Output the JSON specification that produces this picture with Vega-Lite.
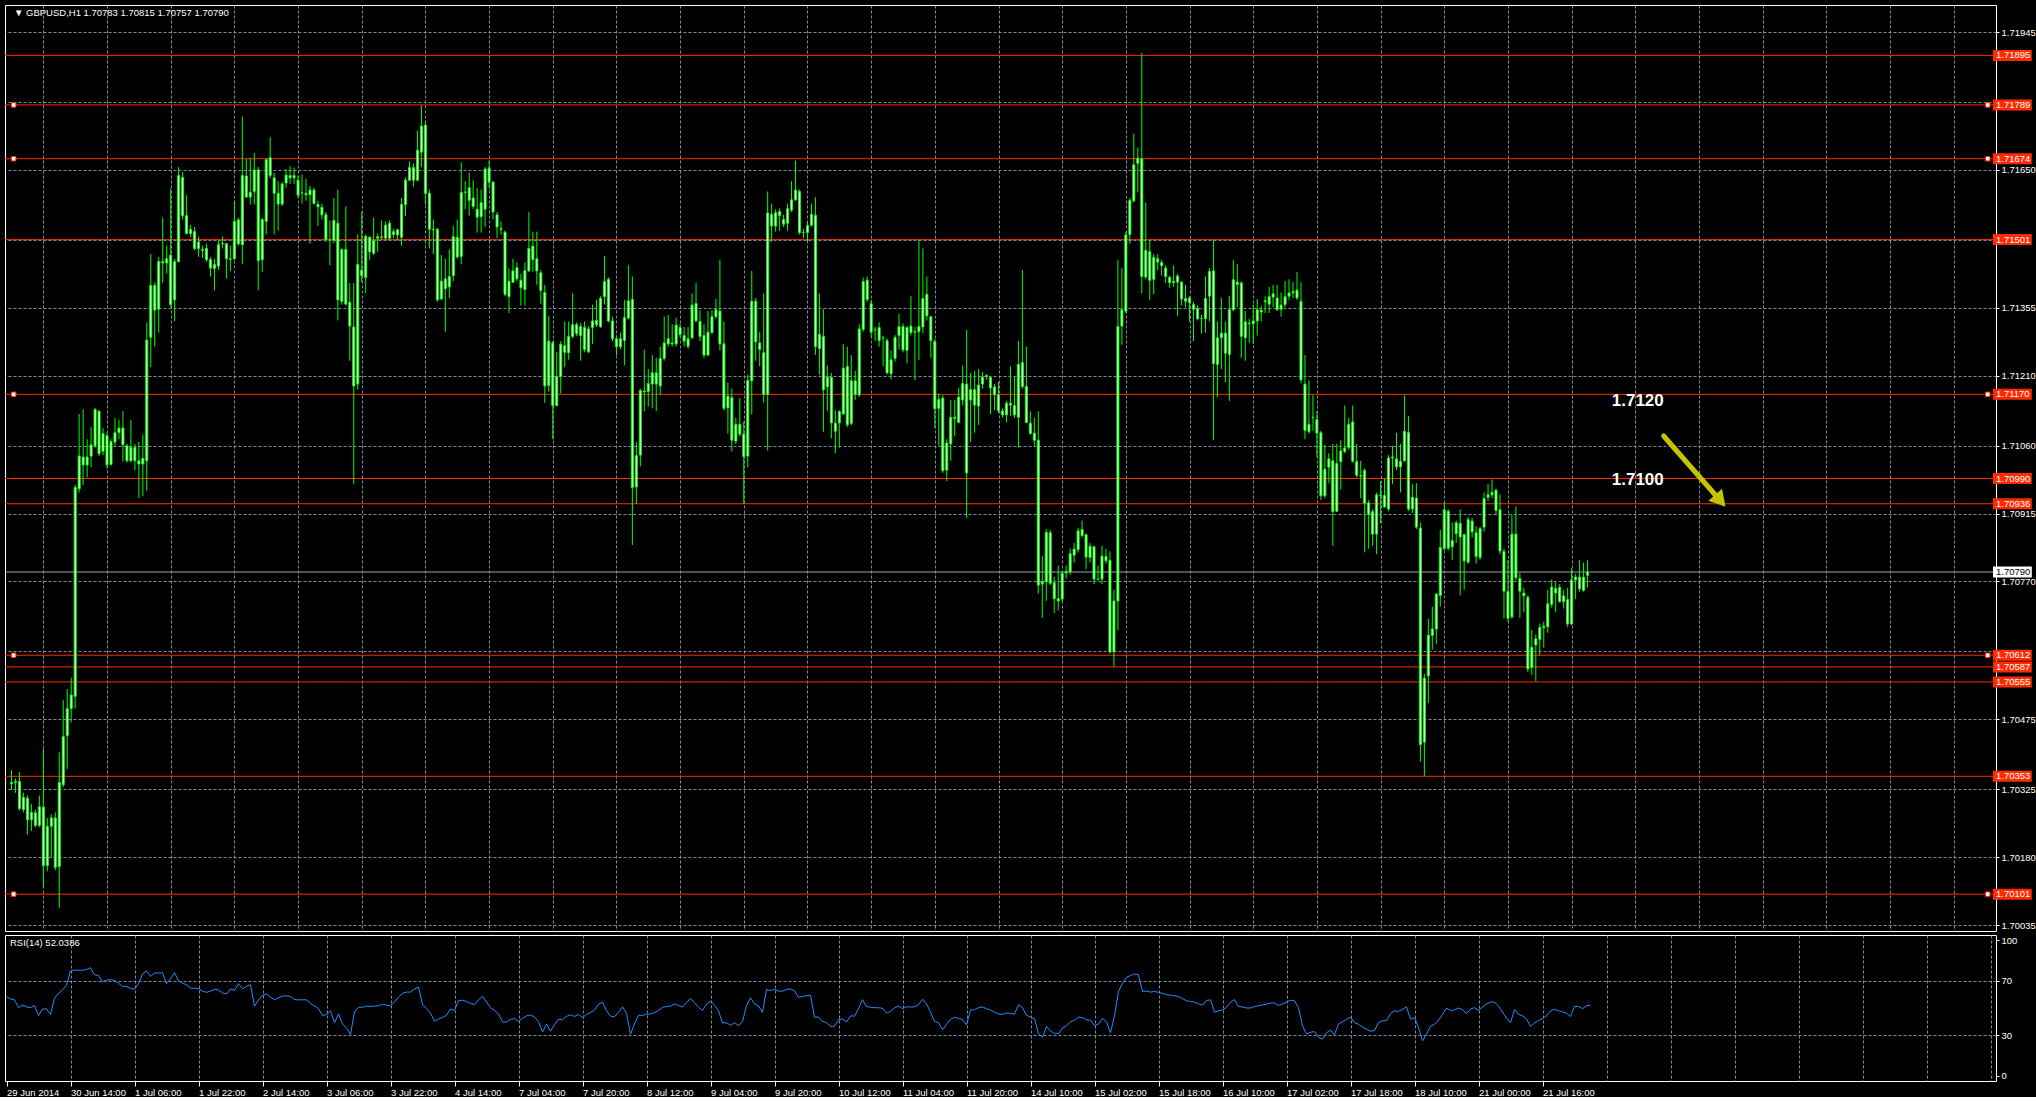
{
"$schema": "https://vega.github.io/schema/vega-lite/v6.json",
"background": "#000000",
"padding": {"left": 4, "top": 4, "right": 0, "bottom": 0},
"spacing": 2,
"config": {
  "view": {"stroke": "#ffffff", "strokeWidth": 1},
  "axis": {"labelColor": "#ffffff", "labelFont": "Liberation Sans", "labelFontSize": 9.5, "tickColor": "#ffffff", "domain": false, "gridColor": "#7f8c9c", "gridDash": [3, 2], "gridWidth": 1, "title": null},
  "text": {"font": "Liberation Sans"}
},
"resolve": {"scale": {"x": "independent", "y": "independent"}},
"datasets": {
"levels": [
{"p":1.71895,"s":0},{"p":1.71789,"s":1},{"p":1.71674,"s":1},{"p":1.71501,"s":0},{"p":1.7117,"s":1},{"p":1.7099,"s":0},{"p":1.70936,"s":0},{"p":1.70612,"s":1},{"p":1.70587,"s":0},{"p":1.70555,"s":0},{"p":1.70353,"s":0},{"p":1.70101,"s":1}
],
"bars": [
{"i":0,"o":1.7034,"h":1.70366,"l":1.70324,"c":1.70337,"r":58.3},
{"i":1,"o":1.7034,"h":1.70348,"l":1.70318,"c":1.70342,"r":56.7},
{"i":2,"o":1.70342,"h":1.70362,"l":1.7028,"c":1.70284,"r":56.0},
{"i":3,"o":1.70282,"h":1.70318,"l":1.70276,"c":1.70308,"r":50.2},
{"i":4,"o":1.70306,"h":1.70312,"l":1.70228,"c":1.7026,"r":52.1},
{"i":5,"o":1.7026,"h":1.70294,"l":1.70236,"c":1.70276,"r":50.9},
{"i":6,"o":1.70275,"h":1.70282,"l":1.70244,"c":1.70248,"r":50.2},
{"i":7,"o":1.70248,"h":1.70312,"l":1.70244,"c":1.70288,"r":51.8},
{"i":8,"o":1.70287,"h":1.70412,"l":1.70116,"c":1.70162,"r":44.5},
{"i":9,"o":1.70162,"h":1.70264,"l":1.7015,"c":1.70246,"r":49.3},
{"i":10,"o":1.70246,"h":1.70272,"l":1.7018,"c":1.70264,"r":49.3},
{"i":11,"o":1.70264,"h":1.70276,"l":1.70152,"c":1.70158,"r":45.2},
{"i":12,"o":1.7016,"h":1.70404,"l":1.70072,"c":1.7034,"r":57.1},
{"i":13,"o":1.70335,"h":1.70516,"l":1.7033,"c":1.70438,"r":60.8},
{"i":14,"o":1.7044,"h":1.7054,"l":1.70368,"c":1.70498,"r":63.3},
{"i":15,"o":1.70498,"h":1.70564,"l":1.70468,"c":1.70527,"r":66.8},
{"i":16,"o":1.70524,"h":1.70976,"l":1.70498,"c":1.70971,"r":77.3},
{"i":17,"o":1.70968,"h":1.71128,"l":1.7096,"c":1.71038,"r":77.8},
{"i":18,"o":1.71036,"h":1.71138,"l":1.70976,"c":1.71019,"r":77.8},
{"i":19,"o":1.71019,"h":1.71074,"l":1.70992,"c":1.71036,"r":77.8},
{"i":20,"o":1.71038,"h":1.711,"l":1.71014,"c":1.71062,"r":78.3},
{"i":21,"o":1.7106,"h":1.7114,"l":1.71056,"c":1.71138,"r":79.6},
{"i":22,"o":1.71134,"h":1.71136,"l":1.71038,"c":1.71043,"r":74.4},
{"i":23,"o":1.71048,"h":1.71098,"l":1.7104,"c":1.71086,"r":73.9},
{"i":24,"o":1.71082,"h":1.71088,"l":1.71012,"c":1.71019,"r":69.3},
{"i":25,"o":1.7102,"h":1.71074,"l":1.71018,"c":1.71069,"r":70.5},
{"i":26,"o":1.71068,"h":1.7112,"l":1.7106,"c":1.71088,"r":70.9},
{"i":27,"o":1.71088,"h":1.71116,"l":1.71074,"c":1.71098,"r":70.2},
{"i":28,"o":1.71098,"h":1.71134,"l":1.71026,"c":1.71062,"r":68.2},
{"i":29,"o":1.7106,"h":1.71064,"l":1.71024,"c":1.71028,"r":65.9},
{"i":30,"o":1.71028,"h":1.71115,"l":1.71024,"c":1.71057,"r":65.9},
{"i":31,"o":1.71056,"h":1.71064,"l":1.71008,"c":1.71028,"r":64.5},
{"i":32,"o":1.71028,"h":1.71068,"l":1.70948,"c":1.71021,"r":63.8},
{"i":33,"o":1.71021,"h":1.71084,"l":1.70952,"c":1.71033,"r":67.9},
{"i":34,"o":1.71028,"h":1.71324,"l":1.70964,"c":1.71286,"r":75.0},
{"i":35,"o":1.71292,"h":1.7147,"l":1.71228,"c":1.71403,"r":77.3},
{"i":36,"o":1.71403,"h":1.7141,"l":1.71272,"c":1.7135,"r":73.2},
{"i":37,"o":1.71352,"h":1.71464,"l":1.71302,"c":1.71454,"r":75.7},
{"i":38,"o":1.71454,"h":1.71548,"l":1.71408,"c":1.71451,"r":75.7},
{"i":39,"o":1.71451,"h":1.71488,"l":1.71428,"c":1.7146,"r":76.0},
{"i":40,"o":1.71468,"h":1.7161,"l":1.71356,"c":1.71362,"r":67.9},
{"i":41,"o":1.71372,"h":1.7146,"l":1.71326,"c":1.71454,"r":71.4},
{"i":42,"o":1.71454,"h":1.71656,"l":1.71452,"c":1.71638,"r":76.0},
{"i":43,"o":1.71634,"h":1.71646,"l":1.71544,"c":1.71552,"r":70.0},
{"i":44,"o":1.71552,"h":1.71596,"l":1.71512,"c":1.71514,"r":68.2},
{"i":45,"o":1.71514,"h":1.71532,"l":1.71506,"c":1.71523,"r":67.2},
{"i":46,"o":1.71518,"h":1.71528,"l":1.71478,"c":1.71482,"r":64.7},
{"i":47,"o":1.71496,"h":1.71508,"l":1.71464,"c":1.71482,"r":64.5},
{"i":48,"o":1.7148,"h":1.71488,"l":1.71462,"c":1.71478,"r":64.2},
{"i":49,"o":1.71482,"h":1.71492,"l":1.71454,"c":1.71458,"r":62.4},
{"i":50,"o":1.71458,"h":1.71464,"l":1.71422,"c":1.7144,"r":61.5},
{"i":51,"o":1.71439,"h":1.7146,"l":1.71392,"c":1.71448,"r":62.4},
{"i":52,"o":1.71444,"h":1.715,"l":1.71436,"c":1.7149,"r":63.6},
{"i":53,"o":1.71492,"h":1.71508,"l":1.71482,"c":1.71493,"r":63.3},
{"i":54,"o":1.71492,"h":1.71494,"l":1.71418,"c":1.7146,"r":61.0},
{"i":55,"o":1.7146,"h":1.71488,"l":1.71434,"c":1.71459,"r":60.3},
{"i":56,"o":1.7146,"h":1.71583,"l":1.71458,"c":1.7154,"r":64.0},
{"i":57,"o":1.71543,"h":1.71548,"l":1.71488,"c":1.71492,"r":62.9},
{"i":58,"o":1.7149,"h":1.71764,"l":1.71448,"c":1.71638,"r":67.9},
{"i":59,"o":1.71637,"h":1.71674,"l":1.7159,"c":1.71592,"r":64.2},
{"i":60,"o":1.71592,"h":1.71676,"l":1.71576,"c":1.71602,"r":65.9},
{"i":61,"o":1.71604,"h":1.71686,"l":1.71576,"c":1.7165,"r":67.2},
{"i":62,"o":1.7165,"h":1.71656,"l":1.71392,"c":1.71456,"r":51.4},
{"i":63,"o":1.71458,"h":1.71547,"l":1.71432,"c":1.71544,"r":55.7},
{"i":64,"o":1.7154,"h":1.71674,"l":1.71512,"c":1.71672,"r":59.4},
{"i":65,"o":1.71676,"h":1.7172,"l":1.71632,"c":1.71638,"r":60.3},
{"i":66,"o":1.71633,"h":1.71644,"l":1.71512,"c":1.716,"r":58.0},
{"i":67,"o":1.716,"h":1.71626,"l":1.7152,"c":1.71577,"r":56.0},
{"i":68,"o":1.71577,"h":1.71624,"l":1.71573,"c":1.7162,"r":57.6},
{"i":69,"o":1.71622,"h":1.71652,"l":1.71612,"c":1.71639,"r":58.7},
{"i":70,"o":1.71638,"h":1.71658,"l":1.7162,"c":1.71633,"r":59.0},
{"i":71,"o":1.71633,"h":1.71655,"l":1.7162,"c":1.71638,"r":58.5},
{"i":72,"o":1.71628,"h":1.71638,"l":1.7159,"c":1.71596,"r":56.2},
{"i":73,"o":1.71601,"h":1.7164,"l":1.71578,"c":1.71601,"r":56.0},
{"i":74,"o":1.716,"h":1.71631,"l":1.71584,"c":1.71597,"r":56.0},
{"i":75,"o":1.71597,"h":1.71616,"l":1.71492,"c":1.71607,"r":56.0},
{"i":76,"o":1.71607,"h":1.71612,"l":1.71576,"c":1.71578,"r":53.2},
{"i":77,"o":1.71576,"h":1.71584,"l":1.7153,"c":1.71571,"r":51.6},
{"i":78,"o":1.7157,"h":1.71578,"l":1.71544,"c":1.71554,"r":49.5},
{"i":79,"o":1.71554,"h":1.7156,"l":1.71496,"c":1.71501,"r":44.5},
{"i":80,"o":1.715,"h":1.71542,"l":1.71446,"c":1.715,"r":45.2},
{"i":81,"o":1.71499,"h":1.7159,"l":1.71494,"c":1.71542,"r":47.9},
{"i":82,"o":1.71536,"h":1.71608,"l":1.71328,"c":1.71372,"r":39.2},
{"i":83,"o":1.71369,"h":1.71482,"l":1.71362,"c":1.7148,"r":45.6},
{"i":84,"o":1.7148,"h":1.71572,"l":1.7136,"c":1.71363,"r":38.3},
{"i":85,"o":1.71367,"h":1.71408,"l":1.71242,"c":1.71316,"r":35.3},
{"i":86,"o":1.71314,"h":1.71408,"l":1.70978,"c":1.71188,"r":30.5},
{"i":87,"o":1.71192,"h":1.71512,"l":1.7118,"c":1.71448,"r":47.2},
{"i":88,"o":1.71436,"h":1.7156,"l":1.7141,"c":1.71424,"r":50.5},
{"i":89,"o":1.7142,"h":1.71512,"l":1.71386,"c":1.71508,"r":50.5},
{"i":90,"o":1.71506,"h":1.71508,"l":1.71458,"c":1.71475,"r":51.4},
{"i":91,"o":1.71472,"h":1.71548,"l":1.71468,"c":1.71499,"r":51.1},
{"i":92,"o":1.71504,"h":1.71514,"l":1.71475,"c":1.71507,"r":51.4},
{"i":93,"o":1.71506,"h":1.71542,"l":1.715,"c":1.71507,"r":51.6},
{"i":94,"o":1.71504,"h":1.7154,"l":1.715,"c":1.71532,"r":52.8},
{"i":95,"o":1.71536,"h":1.71542,"l":1.715,"c":1.71504,"r":52.1},
{"i":96,"o":1.71512,"h":1.71524,"l":1.71504,"c":1.71518,"r":51.6},
{"i":97,"o":1.71511,"h":1.71524,"l":1.71499,"c":1.71522,"r":54.4},
{"i":98,"o":1.71506,"h":1.7159,"l":1.71488,"c":1.71576,"r":58.0},
{"i":99,"o":1.71576,"h":1.71634,"l":1.71552,"c":1.71628,"r":60.8},
{"i":100,"o":1.71628,"h":1.71668,"l":1.71626,"c":1.71655,"r":61.7},
{"i":101,"o":1.71655,"h":1.71664,"l":1.71614,"c":1.71628,"r":61.7},
{"i":102,"o":1.71628,"h":1.71734,"l":1.71626,"c":1.71692,"r":64.0},
{"i":103,"o":1.71688,"h":1.71788,"l":1.71656,"c":1.71744,"r":65.4},
{"i":104,"o":1.71746,"h":1.71752,"l":1.71576,"c":1.716,"r":52.5},
{"i":105,"o":1.716,"h":1.71608,"l":1.71482,"c":1.71523,"r":49.5},
{"i":106,"o":1.71523,"h":1.71544,"l":1.7147,"c":1.71522,"r":46.3},
{"i":107,"o":1.71523,"h":1.71526,"l":1.71368,"c":1.71372,"r":40.3},
{"i":108,"o":1.71374,"h":1.71468,"l":1.71372,"c":1.71412,"r":41.9},
{"i":109,"o":1.71396,"h":1.7146,"l":1.71304,"c":1.71417,"r":43.1},
{"i":110,"o":1.714,"h":1.7148,"l":1.71376,"c":1.71422,"r":44.7},
{"i":111,"o":1.71424,"h":1.7153,"l":1.71412,"c":1.71507,"r":49.3},
{"i":112,"o":1.71506,"h":1.71544,"l":1.7146,"c":1.71464,"r":48.2},
{"i":113,"o":1.71465,"h":1.71666,"l":1.71448,"c":1.71602,"r":55.5},
{"i":114,"o":1.71602,"h":1.71626,"l":1.71566,"c":1.71603,"r":55.7},
{"i":115,"o":1.71612,"h":1.71644,"l":1.71552,"c":1.71585,"r":54.8},
{"i":116,"o":1.7159,"h":1.71628,"l":1.71566,"c":1.71572,"r":53.4},
{"i":117,"o":1.71566,"h":1.71612,"l":1.71516,"c":1.71549,"r":52.5},
{"i":118,"o":1.7155,"h":1.71608,"l":1.71516,"c":1.7158,"r":56.0},
{"i":119,"o":1.71566,"h":1.71656,"l":1.71528,"c":1.71652,"r":58.7},
{"i":120,"o":1.71654,"h":1.7167,"l":1.71612,"c":1.71624,"r":54.4},
{"i":121,"o":1.71624,"h":1.71626,"l":1.71544,"c":1.7156,"r":50.2},
{"i":122,"o":1.71554,"h":1.7156,"l":1.71504,"c":1.71528,"r":48.2},
{"i":123,"o":1.71525,"h":1.7154,"l":1.71512,"c":1.71523,"r":45.6},
{"i":124,"o":1.71517,"h":1.7152,"l":1.7138,"c":1.71384,"r":39.7},
{"i":125,"o":1.71379,"h":1.7144,"l":1.71344,"c":1.71412,"r":39.7},
{"i":126,"o":1.7141,"h":1.7146,"l":1.71408,"c":1.71434,"r":41.7},
{"i":127,"o":1.71417,"h":1.71452,"l":1.71412,"c":1.71441,"r":42.2},
{"i":128,"o":1.71414,"h":1.71428,"l":1.7136,"c":1.71398,"r":40.1},
{"i":129,"o":1.71394,"h":1.71452,"l":1.7136,"c":1.71435,"r":42.4},
{"i":130,"o":1.71434,"h":1.7156,"l":1.71432,"c":1.71482,"r":44.2},
{"i":131,"o":1.71458,"h":1.71518,"l":1.71432,"c":1.71487,"r":44.9},
{"i":132,"o":1.7146,"h":1.71518,"l":1.71404,"c":1.71434,"r":43.3},
{"i":133,"o":1.7143,"h":1.71436,"l":1.71364,"c":1.71392,"r":40.1},
{"i":134,"o":1.71388,"h":1.71404,"l":1.71152,"c":1.71188,"r":32.3},
{"i":135,"o":1.71189,"h":1.71338,"l":1.71176,"c":1.71284,"r":38.3},
{"i":136,"o":1.7128,"h":1.71284,"l":1.71074,"c":1.71146,"r":33.0},
{"i":137,"o":1.71146,"h":1.7126,"l":1.71144,"c":1.71208,"r":37.6},
{"i":138,"o":1.71208,"h":1.71284,"l":1.71172,"c":1.71277,"r":41.7},
{"i":139,"o":1.71274,"h":1.71326,"l":1.71228,"c":1.7126,"r":41.3},
{"i":140,"o":1.71259,"h":1.71326,"l":1.71244,"c":1.71294,"r":43.8},
{"i":141,"o":1.71294,"h":1.71386,"l":1.7129,"c":1.71319,"r":44.9},
{"i":142,"o":1.71319,"h":1.71324,"l":1.71294,"c":1.713,"r":43.8},
{"i":143,"o":1.71296,"h":1.71322,"l":1.71242,"c":1.71315,"r":45.2},
{"i":144,"o":1.71313,"h":1.71326,"l":1.7126,"c":1.71266,"r":42.9},
{"i":145,"o":1.71261,"h":1.71316,"l":1.71258,"c":1.7131,"r":45.2},
{"i":146,"o":1.71313,"h":1.71362,"l":1.71278,"c":1.71327,"r":46.8},
{"i":147,"o":1.71319,"h":1.71372,"l":1.71314,"c":1.71328,"r":48.6},
{"i":148,"o":1.71315,"h":1.7138,"l":1.71312,"c":1.71375,"r":52.8},
{"i":149,"o":1.71379,"h":1.71466,"l":1.71362,"c":1.71411,"r":54.4},
{"i":150,"o":1.71416,"h":1.7142,"l":1.71324,"c":1.71327,"r":47.9},
{"i":151,"o":1.71327,"h":1.71336,"l":1.71284,"c":1.71289,"r":44.0},
{"i":152,"o":1.71289,"h":1.71296,"l":1.71254,"c":1.71272,"r":43.6},
{"i":153,"o":1.71272,"h":1.71302,"l":1.71266,"c":1.71289,"r":46.8},
{"i":154,"o":1.71285,"h":1.71372,"l":1.71232,"c":1.71334,"r":50.9},
{"i":155,"o":1.71333,"h":1.71446,"l":1.7133,"c":1.7137,"r":46.1},
{"i":156,"o":1.71373,"h":1.71422,"l":1.70848,"c":1.70971,"r":30.7},
{"i":157,"o":1.70972,"h":1.71068,"l":1.70936,"c":1.71039,"r":38.3},
{"i":158,"o":1.7104,"h":1.71182,"l":1.71016,"c":1.71178,"r":44.7},
{"i":159,"o":1.71177,"h":1.71266,"l":1.71134,"c":1.71175,"r":44.5},
{"i":160,"o":1.71176,"h":1.71224,"l":1.71144,"c":1.71193,"r":45.4},
{"i":161,"o":1.71192,"h":1.71254,"l":1.7114,"c":1.71216,"r":45.6},
{"i":162,"o":1.71216,"h":1.71248,"l":1.71134,"c":1.71192,"r":46.5},
{"i":163,"o":1.71188,"h":1.71272,"l":1.71168,"c":1.71247,"r":48.2},
{"i":164,"o":1.71247,"h":1.71336,"l":1.71242,"c":1.7128,"r":50.5},
{"i":165,"o":1.71278,"h":1.7134,"l":1.71272,"c":1.71289,"r":51.1},
{"i":166,"o":1.7128,"h":1.7132,"l":1.71272,"c":1.71278,"r":51.4},
{"i":167,"o":1.71278,"h":1.71334,"l":1.71272,"c":1.71318,"r":53.0},
{"i":168,"o":1.71313,"h":1.7132,"l":1.71292,"c":1.71298,"r":51.8},
{"i":169,"o":1.71296,"h":1.71314,"l":1.71272,"c":1.71284,"r":50.7},
{"i":170,"o":1.71289,"h":1.71314,"l":1.71268,"c":1.71273,"r":53.9},
{"i":171,"o":1.71291,"h":1.71386,"l":1.71288,"c":1.71361,"r":57.1},
{"i":172,"o":1.71364,"h":1.71408,"l":1.71324,"c":1.71327,"r":53.9},
{"i":173,"o":1.71326,"h":1.7135,"l":1.71284,"c":1.71294,"r":50.5},
{"i":174,"o":1.71296,"h":1.7132,"l":1.71248,"c":1.71254,"r":48.2},
{"i":175,"o":1.71254,"h":1.71348,"l":1.71252,"c":1.71303,"r":52.8},
{"i":176,"o":1.71302,"h":1.7135,"l":1.713,"c":1.71336,"r":55.1},
{"i":177,"o":1.71336,"h":1.71374,"l":1.71332,"c":1.71351,"r":52.1},
{"i":178,"o":1.71348,"h":1.71458,"l":1.71264,"c":1.71278,"r":47.9},
{"i":179,"o":1.71278,"h":1.71326,"l":1.71136,"c":1.7114,"r":39.0},
{"i":180,"o":1.71141,"h":1.71196,"l":1.71086,"c":1.71166,"r":39.2},
{"i":181,"o":1.71163,"h":1.71182,"l":1.71048,"c":1.71072,"r":37.3},
{"i":182,"o":1.7107,"h":1.7112,"l":1.71064,"c":1.71106,"r":39.2},
{"i":183,"o":1.71106,"h":1.71162,"l":1.7108,"c":1.71085,"r":37.1},
{"i":184,"o":1.71085,"h":1.71112,"l":1.70936,"c":1.71037,"r":39.9},
{"i":185,"o":1.71038,"h":1.71212,"l":1.71014,"c":1.712,"r":51.8},
{"i":186,"o":1.71199,"h":1.71434,"l":1.71128,"c":1.71369,"r":57.6},
{"i":187,"o":1.71369,"h":1.71376,"l":1.71242,"c":1.71282,"r":53.0},
{"i":188,"o":1.7128,"h":1.71304,"l":1.7123,"c":1.71266,"r":51.6},
{"i":189,"o":1.71259,"h":1.71386,"l":1.71152,"c":1.7117,"r":46.8},
{"i":190,"o":1.7117,"h":1.71604,"l":1.7105,"c":1.71558,"r":63.6},
{"i":191,"o":1.7153,"h":1.71578,"l":1.71496,"c":1.71555,"r":62.9},
{"i":192,"o":1.71559,"h":1.71566,"l":1.71518,"c":1.7153,"r":63.6},
{"i":193,"o":1.71552,"h":1.71568,"l":1.7152,"c":1.71561,"r":62.4},
{"i":194,"o":1.71544,"h":1.71554,"l":1.71528,"c":1.71534,"r":62.4},
{"i":195,"o":1.71536,"h":1.71578,"l":1.7152,"c":1.71567,"r":63.6},
{"i":196,"o":1.71564,"h":1.71626,"l":1.7156,"c":1.71586,"r":64.0},
{"i":197,"o":1.71586,"h":1.7167,"l":1.71584,"c":1.71607,"r":62.6},
{"i":198,"o":1.71604,"h":1.71608,"l":1.71512,"c":1.71516,"r":57.8},
{"i":199,"o":1.71516,"h":1.71524,"l":1.71504,"c":1.71516,"r":58.5},
{"i":200,"o":1.71516,"h":1.7154,"l":1.71496,"c":1.71531,"r":59.0},
{"i":201,"o":1.71532,"h":1.71578,"l":1.71528,"c":1.71555,"r":59.4},
{"i":202,"o":1.71553,"h":1.71592,"l":1.71254,"c":1.71272,"r":43.3},
{"i":203,"o":1.71268,"h":1.71386,"l":1.71212,"c":1.71298,"r":43.3},
{"i":204,"o":1.71294,"h":1.71352,"l":1.7109,"c":1.7118,"r":40.1},
{"i":205,"o":1.71186,"h":1.71232,"l":1.71134,"c":1.71207,"r":39.4},
{"i":206,"o":1.71206,"h":1.71216,"l":1.71076,"c":1.71109,"r":36.4},
{"i":207,"o":1.71108,"h":1.71136,"l":1.71044,"c":1.71091,"r":36.7},
{"i":208,"o":1.71109,"h":1.71136,"l":1.71056,"c":1.71133,"r":41.5},
{"i":209,"o":1.71128,"h":1.71278,"l":1.71126,"c":1.71226,"r":41.9},
{"i":210,"o":1.7123,"h":1.71272,"l":1.711,"c":1.71105,"r":39.7},
{"i":211,"o":1.71108,"h":1.71254,"l":1.71104,"c":1.71199,"r":44.2},
{"i":212,"o":1.71199,"h":1.7122,"l":1.71158,"c":1.7117,"r":44.0},
{"i":213,"o":1.71169,"h":1.7132,"l":1.71164,"c":1.7131,"r":49.5},
{"i":214,"o":1.71309,"h":1.7142,"l":1.71304,"c":1.71411,"r":56.2},
{"i":215,"o":1.71414,"h":1.71422,"l":1.71368,"c":1.71373,"r":51.1},
{"i":216,"o":1.71364,"h":1.71372,"l":1.71292,"c":1.71303,"r":50.5},
{"i":217,"o":1.71308,"h":1.71314,"l":1.71284,"c":1.71308,"r":50.2},
{"i":218,"o":1.71313,"h":1.71324,"l":1.71272,"c":1.71285,"r":50.2},
{"i":219,"o":1.71291,"h":1.71295,"l":1.7123,"c":1.71291,"r":49.8},
{"i":220,"o":1.71285,"h":1.7129,"l":1.71213,"c":1.71216,"r":46.3},
{"i":221,"o":1.71214,"h":1.71264,"l":1.71202,"c":1.71244,"r":47.5},
{"i":222,"o":1.71247,"h":1.71297,"l":1.7124,"c":1.71292,"r":50.2},
{"i":223,"o":1.71296,"h":1.71342,"l":1.71266,"c":1.71315,"r":51.4},
{"i":224,"o":1.71315,"h":1.71322,"l":1.7126,"c":1.71265,"r":49.5},
{"i":225,"o":1.71264,"h":1.71316,"l":1.71236,"c":1.71313,"r":50.9},
{"i":226,"o":1.71316,"h":1.7138,"l":1.71296,"c":1.71302,"r":50.7},
{"i":227,"o":1.71304,"h":1.71314,"l":1.712,"c":1.71303,"r":50.9},
{"i":228,"o":1.71304,"h":1.715,"l":1.71244,"c":1.71315,"r":52.3},
{"i":229,"o":1.71314,"h":1.71482,"l":1.713,"c":1.71375,"r":56.4},
{"i":230,"o":1.71384,"h":1.71422,"l":1.71328,"c":1.71338,"r":53.0},
{"i":231,"o":1.71336,"h":1.71338,"l":1.71248,"c":1.71285,"r":47.0},
{"i":232,"o":1.71283,"h":1.71288,"l":1.71098,"c":1.71139,"r":40.1},
{"i":233,"o":1.7114,"h":1.71172,"l":1.7106,"c":1.71159,"r":39.2},
{"i":234,"o":1.71162,"h":1.71168,"l":1.71002,"c":1.71007,"r":34.1},
{"i":235,"o":1.71008,"h":1.71074,"l":1.70984,"c":1.71066,"r":38.0},
{"i":236,"o":1.71064,"h":1.71158,"l":1.71028,"c":1.71121,"r":41.7},
{"i":237,"o":1.71121,"h":1.71158,"l":1.7108,"c":1.71118,"r":43.1},
{"i":238,"o":1.7111,"h":1.71184,"l":1.71108,"c":1.71164,"r":42.4},
{"i":239,"o":1.71158,"h":1.71232,"l":1.71146,"c":1.71193,"r":41.5},
{"i":240,"o":1.71192,"h":1.71308,"l":1.70906,"c":1.71002,"r":37.6},
{"i":241,"o":1.71158,"h":1.71216,"l":1.71068,"c":1.7118,"r":48.4},
{"i":242,"o":1.7118,"h":1.7122,"l":1.71088,"c":1.71147,"r":48.8},
{"i":243,"o":1.71145,"h":1.71224,"l":1.71104,"c":1.7119,"r":50.2},
{"i":244,"o":1.71192,"h":1.71218,"l":1.71182,"c":1.71207,"r":50.7},
{"i":245,"o":1.71208,"h":1.71213,"l":1.71201,"c":1.7121,"r":49.5},
{"i":246,"o":1.71206,"h":1.71208,"l":1.71128,"c":1.71184,"r":48.4},
{"i":247,"o":1.71186,"h":1.71192,"l":1.71136,"c":1.71169,"r":47.0},
{"i":248,"o":1.71169,"h":1.71196,"l":1.7113,"c":1.71135,"r":45.6},
{"i":249,"o":1.71134,"h":1.7114,"l":1.7112,"c":1.71126,"r":45.4},
{"i":250,"o":1.71126,"h":1.71156,"l":1.7111,"c":1.71151,"r":46.3},
{"i":251,"o":1.71151,"h":1.7123,"l":1.71124,"c":1.71147,"r":46.1},
{"i":252,"o":1.71146,"h":1.71208,"l":1.7112,"c":1.71126,"r":45.4},
{"i":253,"o":1.71121,"h":1.71284,"l":1.71056,"c":1.71234,"r":52.5},
{"i":254,"o":1.71238,"h":1.71436,"l":1.71182,"c":1.71187,"r":50.2},
{"i":255,"o":1.71187,"h":1.71272,"l":1.71108,"c":1.7111,"r":44.7},
{"i":256,"o":1.71108,"h":1.71134,"l":1.71084,"c":1.71086,"r":43.3},
{"i":257,"o":1.71087,"h":1.7112,"l":1.7106,"c":1.71072,"r":42.2},
{"i":258,"o":1.71072,"h":1.71134,"l":1.70744,"c":1.70762,"r":31.4},
{"i":259,"o":1.70764,"h":1.70824,"l":1.70692,"c":1.7077,"r":28.4},
{"i":260,"o":1.70769,"h":1.70882,"l":1.70728,"c":1.70875,"r":36.4},
{"i":261,"o":1.70874,"h":1.7088,"l":1.70762,"c":1.70766,"r":33.0},
{"i":262,"o":1.70767,"h":1.7078,"l":1.70702,"c":1.70733,"r":31.4},
{"i":263,"o":1.70733,"h":1.70804,"l":1.70708,"c":1.70728,"r":31.1},
{"i":264,"o":1.70732,"h":1.70792,"l":1.70726,"c":1.70787,"r":35.3},
{"i":265,"o":1.70788,"h":1.70804,"l":1.70776,"c":1.70791,"r":36.9},
{"i":266,"o":1.7079,"h":1.7084,"l":1.70784,"c":1.70829,"r":39.9},
{"i":267,"o":1.70826,"h":1.70852,"l":1.7081,"c":1.70839,"r":41.0},
{"i":268,"o":1.70838,"h":1.70884,"l":1.70832,"c":1.70878,"r":43.3},
{"i":269,"o":1.70868,"h":1.709,"l":1.70864,"c":1.70881,"r":42.9},
{"i":270,"o":1.7087,"h":1.70872,"l":1.70796,"c":1.70822,"r":41.3},
{"i":271,"o":1.70821,"h":1.70852,"l":1.7081,"c":1.70845,"r":41.0},
{"i":272,"o":1.70844,"h":1.70846,"l":1.70764,"c":1.70775,"r":37.1},
{"i":273,"o":1.70775,"h":1.70804,"l":1.70772,"c":1.70774,"r":38.3},
{"i":274,"o":1.70775,"h":1.70846,"l":1.70764,"c":1.70824,"r":42.2},
{"i":275,"o":1.70823,"h":1.7084,"l":1.70808,"c":1.70814,"r":39.9},
{"i":276,"o":1.70815,"h":1.70834,"l":1.70616,"c":1.70619,"r":31.8},
{"i":277,"o":1.70619,"h":1.70752,"l":1.70588,"c":1.70728,"r":44.5},
{"i":278,"o":1.70728,"h":1.71458,"l":1.70666,"c":1.71315,"r":62.2},
{"i":279,"o":1.71316,"h":1.7144,"l":1.71276,"c":1.71351,"r":68.2},
{"i":280,"o":1.71348,"h":1.71518,"l":1.71344,"c":1.71511,"r":72.5},
{"i":281,"o":1.71512,"h":1.7159,"l":1.71492,"c":1.71585,"r":73.9},
{"i":282,"o":1.71584,"h":1.71728,"l":1.7158,"c":1.71661,"r":75.0},
{"i":283,"o":1.71664,"h":1.71698,"l":1.71602,"c":1.71675,"r":74.4},
{"i":284,"o":1.71674,"h":1.719,"l":1.71386,"c":1.71422,"r":62.2},
{"i":285,"o":1.71421,"h":1.7158,"l":1.71416,"c":1.71478,"r":62.4},
{"i":286,"o":1.71475,"h":1.715,"l":1.71372,"c":1.71414,"r":61.7},
{"i":287,"o":1.71416,"h":1.7147,"l":1.71384,"c":1.71463,"r":62.2},
{"i":288,"o":1.7146,"h":1.7147,"l":1.71436,"c":1.71453,"r":61.5},
{"i":289,"o":1.71452,"h":1.71458,"l":1.71424,"c":1.71445,"r":60.8},
{"i":290,"o":1.7144,"h":1.71446,"l":1.71408,"c":1.71422,"r":59.9},
{"i":291,"o":1.7142,"h":1.71424,"l":1.71398,"c":1.71409,"r":59.4},
{"i":292,"o":1.71409,"h":1.71446,"l":1.714,"c":1.71412,"r":59.0},
{"i":293,"o":1.7141,"h":1.71428,"l":1.71338,"c":1.71423,"r":58.3},
{"i":294,"o":1.7141,"h":1.71412,"l":1.7136,"c":1.71374,"r":56.9},
{"i":295,"o":1.71375,"h":1.71404,"l":1.71356,"c":1.71369,"r":55.3},
{"i":296,"o":1.71366,"h":1.7138,"l":1.71326,"c":1.71376,"r":54.8},
{"i":297,"o":1.71362,"h":1.71368,"l":1.71284,"c":1.71352,"r":54.4},
{"i":298,"o":1.71354,"h":1.7136,"l":1.71328,"c":1.71332,"r":53.0},
{"i":299,"o":1.71332,"h":1.7134,"l":1.713,"c":1.71332,"r":52.1},
{"i":300,"o":1.71332,"h":1.71422,"l":1.71302,"c":1.71375,"r":55.5},
{"i":301,"o":1.7138,"h":1.7144,"l":1.71326,"c":1.71433,"r":56.0},
{"i":302,"o":1.71434,"h":1.715,"l":1.71072,"c":1.71236,"r":47.0},
{"i":303,"o":1.71234,"h":1.71326,"l":1.71164,"c":1.71291,"r":47.9},
{"i":304,"o":1.71291,"h":1.71376,"l":1.71224,"c":1.71301,"r":48.6},
{"i":305,"o":1.71301,"h":1.71326,"l":1.71196,"c":1.71258,"r":50.5},
{"i":306,"o":1.71255,"h":1.7138,"l":1.71156,"c":1.71351,"r":54.4},
{"i":307,"o":1.71351,"h":1.71458,"l":1.71348,"c":1.71415,"r":56.2},
{"i":308,"o":1.7141,"h":1.71448,"l":1.71356,"c":1.71405,"r":51.1},
{"i":309,"o":1.71408,"h":1.71412,"l":1.71248,"c":1.71294,"r":50.7},
{"i":310,"o":1.71291,"h":1.71348,"l":1.71242,"c":1.71325,"r":50.0},
{"i":311,"o":1.71322,"h":1.71332,"l":1.7128,"c":1.71321,"r":50.0},
{"i":312,"o":1.71321,"h":1.71362,"l":1.71278,"c":1.71327,"r":51.1},
{"i":313,"o":1.71327,"h":1.71374,"l":1.71296,"c":1.71351,"r":51.6},
{"i":314,"o":1.7135,"h":1.7136,"l":1.71326,"c":1.71346,"r":52.3},
{"i":315,"o":1.71368,"h":1.7138,"l":1.71344,"c":1.7137,"r":52.8},
{"i":316,"o":1.71363,"h":1.714,"l":1.71344,"c":1.71379,"r":53.7},
{"i":317,"o":1.71378,"h":1.71404,"l":1.71356,"c":1.71385,"r":53.7},
{"i":318,"o":1.71376,"h":1.71404,"l":1.71348,"c":1.71351,"r":51.8},
{"i":319,"o":1.71352,"h":1.71388,"l":1.71336,"c":1.71361,"r":53.0},
{"i":320,"o":1.71362,"h":1.71412,"l":1.71356,"c":1.71379,"r":54.4},
{"i":321,"o":1.7138,"h":1.71416,"l":1.71372,"c":1.71387,"r":55.7},
{"i":322,"o":1.71387,"h":1.7141,"l":1.71376,"c":1.7139,"r":55.3},
{"i":323,"o":1.71376,"h":1.71432,"l":1.71372,"c":1.71393,"r":50.2},
{"i":324,"o":1.71369,"h":1.7141,"l":1.71194,"c":1.71201,"r":36.9},
{"i":325,"o":1.71192,"h":1.71254,"l":1.71074,"c":1.71093,"r":30.9},
{"i":326,"o":1.7109,"h":1.712,"l":1.71086,"c":1.71106,"r":32.1},
{"i":327,"o":1.7112,"h":1.71168,"l":1.71092,"c":1.71121,"r":32.7},
{"i":328,"o":1.71116,"h":1.71134,"l":1.71036,"c":1.71087,"r":28.4},
{"i":329,"o":1.71088,"h":1.71092,"l":1.70944,"c":1.70953,"r":27.2},
{"i":330,"o":1.70953,"h":1.71062,"l":1.70948,"c":1.7101,"r":31.8},
{"i":331,"o":1.71014,"h":1.71044,"l":1.7098,"c":1.71032,"r":33.7},
{"i":332,"o":1.71028,"h":1.71064,"l":1.70846,"c":1.70919,"r":30.5},
{"i":333,"o":1.7092,"h":1.71064,"l":1.70918,"c":1.71022,"r":38.3},
{"i":334,"o":1.71026,"h":1.71072,"l":1.70966,"c":1.71049,"r":39.9},
{"i":335,"o":1.71048,"h":1.71146,"l":1.71044,"c":1.71055,"r":41.7},
{"i":336,"o":1.71056,"h":1.7112,"l":1.71052,"c":1.71106,"r":43.3},
{"i":337,"o":1.71111,"h":1.71146,"l":1.71024,"c":1.71027,"r":39.2},
{"i":338,"o":1.71026,"h":1.71064,"l":1.70992,"c":1.70997,"r":38.0},
{"i":339,"o":1.70996,"h":1.71028,"l":1.70948,"c":1.70995,"r":36.0},
{"i":340,"o":1.71007,"h":1.71012,"l":1.70832,"c":1.70937,"r":34.4},
{"i":341,"o":1.70938,"h":1.70944,"l":1.7084,"c":1.70913,"r":33.0},
{"i":342,"o":1.70919,"h":1.70924,"l":1.70846,"c":1.70871,"r":33.4},
{"i":343,"o":1.70871,"h":1.7096,"l":1.70828,"c":1.70955,"r":39.4},
{"i":344,"o":1.70955,"h":1.70984,"l":1.70894,"c":1.70954,"r":40.6},
{"i":345,"o":1.70954,"h":1.7099,"l":1.70928,"c":1.70929,"r":40.8},
{"i":346,"o":1.70925,"h":1.7104,"l":1.7092,"c":1.71034,"r":45.9},
{"i":347,"o":1.71034,"h":1.7106,"l":1.70978,"c":1.71036,"r":47.9},
{"i":348,"o":1.71032,"h":1.71088,"l":1.71008,"c":1.71015,"r":47.5},
{"i":349,"o":1.71015,"h":1.71064,"l":1.7096,"c":1.71027,"r":49.1},
{"i":350,"o":1.71028,"h":1.71168,"l":1.71026,"c":1.71091,"r":50.9},
{"i":351,"o":1.71088,"h":1.71124,"l":1.7092,"c":1.70925,"r":41.7},
{"i":352,"o":1.70925,"h":1.70978,"l":1.70916,"c":1.7095,"r":42.9},
{"i":353,"o":1.70948,"h":1.7098,"l":1.70882,"c":1.70886,"r":35.7},
{"i":354,"o":1.70884,"h":1.70896,"l":1.70384,"c":1.70421,"r":25.9},
{"i":355,"o":1.70426,"h":1.70572,"l":1.70354,"c":1.70563,"r":30.7},
{"i":356,"o":1.70568,"h":1.7069,"l":1.7051,"c":1.70655,"r":36.7},
{"i":357,"o":1.70654,"h":1.70716,"l":1.70624,"c":1.70668,"r":38.0},
{"i":358,"o":1.70668,"h":1.70744,"l":1.70636,"c":1.70743,"r":41.0},
{"i":359,"o":1.7074,"h":1.7088,"l":1.70716,"c":1.70842,"r":45.2},
{"i":360,"o":1.7084,"h":1.7094,"l":1.70836,"c":1.70923,"r":50.0},
{"i":361,"o":1.7092,"h":1.70924,"l":1.70836,"c":1.70841,"r":48.2},
{"i":362,"o":1.70844,"h":1.70896,"l":1.70816,"c":1.70857,"r":48.6},
{"i":363,"o":1.70872,"h":1.709,"l":1.70852,"c":1.70895,"r":50.0},
{"i":364,"o":1.70894,"h":1.70924,"l":1.7074,"c":1.70865,"r":48.8},
{"i":365,"o":1.7087,"h":1.70872,"l":1.70752,"c":1.70814,"r":45.9},
{"i":366,"o":1.70811,"h":1.70908,"l":1.70808,"c":1.70902,"r":49.3},
{"i":367,"o":1.70899,"h":1.70906,"l":1.70864,"c":1.70876,"r":50.2},
{"i":368,"o":1.70874,"h":1.70888,"l":1.70808,"c":1.70823,"r":48.4},
{"i":369,"o":1.70821,"h":1.70887,"l":1.70816,"c":1.70883,"r":50.7},
{"i":370,"o":1.70886,"h":1.7096,"l":1.70876,"c":1.70947,"r":53.0},
{"i":371,"o":1.7095,"h":1.70978,"l":1.70942,"c":1.70955,"r":54.4},
{"i":372,"o":1.70955,"h":1.70988,"l":1.70948,"c":1.7096,"r":54.4},
{"i":373,"o":1.70965,"h":1.70968,"l":1.70912,"c":1.70922,"r":51.4},
{"i":374,"o":1.70923,"h":1.70956,"l":1.70828,"c":1.70835,"r":47.0},
{"i":375,"o":1.70834,"h":1.7084,"l":1.7069,"c":1.70749,"r":42.6},
{"i":376,"o":1.70748,"h":1.70816,"l":1.70684,"c":1.70691,"r":39.2},
{"i":377,"o":1.70694,"h":1.70912,"l":1.7069,"c":1.70871,"r":48.8},
{"i":378,"o":1.70871,"h":1.7093,"l":1.70772,"c":1.70778,"r":45.4},
{"i":379,"o":1.70776,"h":1.70788,"l":1.70692,"c":1.70749,"r":44.2},
{"i":380,"o":1.70745,"h":1.70756,"l":1.70704,"c":1.70739,"r":41.9},
{"i":381,"o":1.70736,"h":1.7074,"l":1.70576,"c":1.70583,"r":36.4},
{"i":382,"o":1.70586,"h":1.70666,"l":1.7057,"c":1.70629,"r":39.0},
{"i":383,"o":1.70634,"h":1.70656,"l":1.70556,"c":1.70647,"r":40.8},
{"i":384,"o":1.70646,"h":1.7068,"l":1.70612,"c":1.70671,"r":42.2},
{"i":385,"o":1.70671,"h":1.70684,"l":1.70628,"c":1.70674,"r":44.2},
{"i":386,"o":1.70673,"h":1.70752,"l":1.7066,"c":1.70722,"r":47.9},
{"i":387,"o":1.70721,"h":1.70774,"l":1.70714,"c":1.70758,"r":49.1},
{"i":388,"o":1.70755,"h":1.70768,"l":1.70704,"c":1.70745,"r":47.9},
{"i":389,"o":1.70757,"h":1.70764,"l":1.70724,"c":1.70727,"r":47.2},
{"i":390,"o":1.70727,"h":1.70752,"l":1.70712,"c":1.70739,"r":46.1},
{"i":391,"o":1.70731,"h":1.70756,"l":1.70672,"c":1.70679,"r":43.8},
{"i":392,"o":1.70679,"h":1.70798,"l":1.70676,"c":1.70773,"r":51.1},
{"i":393,"o":1.70773,"h":1.70786,"l":1.70732,"c":1.70779,"r":51.1},
{"i":394,"o":1.70779,"h":1.70816,"l":1.70748,"c":1.70754,"r":49.5},
{"i":395,"o":1.70751,"h":1.7081,"l":1.70748,"c":1.70779,"r":51.6},
{"i":396,"o":1.70783,"h":1.70815,"l":1.70757,"c":1.7079,"r":52.04}
]
},
"vconcat": [
{
"width": 1991,
"height": 926,
"layer": [
{
"data": {"name": "levels"},
"mark": {"type": "rule", "color": "#ff2a00", "strokeWidth": 1},
"encoding": {
"y": {"field": "p", "type": "quantitative", "title": null,
"scale": {"domain": [1.7002217, 1.7200275], "nice": false, "zero": false},
"axis": {"orient": "right", "values": [1.70035,1.7011,1.7018,1.70255,1.70325,1.704,1.70475,1.70545,1.7062,1.70695,1.7077,1.7084,1.70915,1.7099,1.7106,1.71135,1.7121,1.7128,1.71355,1.7143,1.715,1.71575,1.7165,1.71725,1.71795,1.7187,1.71945],
"format": ".5f",
"labelExpr": "indexof(['1.71795','1.71500','1.70990','1.70620','1.70545','1.70110'], datum.label) >= 0 ? '' : datum.label",
"grid": true, "tickSize": 3, "labelPadding": 2, "zindex": 0, "title": null, "labelFlush": false, "labelOverlap": false, "labelBound": false}
}
}
},
{
"data": {"values": [{"p": 1.7079}]},
"mark": {"type": "rule", "color": "#9aa3ad", "strokeWidth": 1},
"encoding": {"y": {"field": "p", "type": "quantitative", "title": null, "scale": {"domain": [1.7002217, 1.7200275], "nice": false, "zero": false}}}
},
{
"data": {"name": "bars"},
"mark": {"type": "rule", "color": "#00ff00", "strokeWidth": 1},
"encoding": {
"x": {"field": "i", "type": "quantitative", "title": null,
"scale": {"domain": [-0.375, 497.375], "nice": false, "zero": false},
"axis": {"orient": "bottom", "values": [8,16,24,32,40,48,56,64,72,80,88,96,104,112,120,128,136,144,152,160,168,176,184,192,200,208,216,224,232,240,248,256,264,272,280,288,296,304,312,320,328,336,344,352,360,368,376,384,392,400,408,416,424,432,440,448,456,464,472,480,488,496],
"grid": true, "labels": false, "ticks": false, "domain": false, "title": null, "minExtent": 0, "maxExtent": 0, "zindex": 0}},
"y": {"field": "l", "type": "quantitative", "title": null, "scale": {"domain": [1.7002217, 1.7200275], "nice": false, "zero": false}},
"y2": {"field": "h"}
}
},
{
"data": {"name": "bars"},
"mark": {"type": "bar", "width": 2, "fill": "#ffffff", "stroke": "#00ff00", "strokeWidth": 1},
"encoding": {
"x": {"field": "i", "type": "quantitative", "title": null, "scale": {"domain": [-0.375, 497.375], "nice": false, "zero": false}},
"y": {"field": "o", "type": "quantitative", "title": null, "scale": {"domain": [1.7002217, 1.7200275], "nice": false, "zero": false}},
"y2": {"field": "c"}
}
},
{
"data": {"name": "levels"},
"transform": [{"filter": "datum.s == 1"}],
"mark": {"type": "point", "shape": "square", "size": 20, "filled": true, "fill": "#ffffff", "stroke": "#ff2a00", "strokeWidth": 1, "opacity": 1},
"encoding": {
"x": {"datum": 0.55, "type": "quantitative", "scale": {"domain": [-0.375, 497.375], "nice": false, "zero": false}},
"y": {"field": "p", "type": "quantitative", "title": null, "scale": {"domain": [1.7002217, 1.7200275], "nice": false, "zero": false}}
}
},
{
"data": {"name": "levels"},
"transform": [{"filter": "datum.s == 1"}],
"mark": {"type": "point", "shape": "square", "size": 20, "filled": true, "fill": "#ffffff", "stroke": "#ff2a00", "strokeWidth": 1, "opacity": 1},
"encoding": {
"x": {"datum": 496.55, "type": "quantitative", "scale": {"domain": [-0.375, 497.375], "nice": false, "zero": false}},
"y": {"field": "p", "type": "quantitative", "title": null, "scale": {"domain": [1.7002217, 1.7200275], "nice": false, "zero": false}}
}
},
{
"data": {"values": [{"x": 408.625, "p": 1.711547, "t": "1.7120"}, {"x": 408.625, "p": 1.709868, "t": "1.7100"}]},
"mark": {"type": "text", "color": "#ffffff", "fontSize": 17, "fontWeight": "bold", "font": "Liberation Sans", "align": "center", "baseline": "middle"},
"encoding": {
"x": {"field": "x", "type": "quantitative", "title": null, "scale": {"domain": [-0.375, 497.375], "nice": false, "zero": false}},
"y": {"field": "p", "type": "quantitative", "title": null, "scale": {"domain": [1.7002217, 1.7200275], "nice": false, "zero": false}},
"text": {"field": "t"}
}
},
{
"data": {"values": [{"x": 415.125, "p": 1.710809, "x2": 428.4, "p2": 1.70952}]},
"mark": {"type": "rule", "color": "#c4c400", "strokeWidth": 5, "strokeCap": "round"},
"encoding": {
"x": {"field": "x", "type": "quantitative", "title": null, "scale": {"domain": [-0.375, 497.375], "nice": false, "zero": false}},
"y": {"field": "p", "type": "quantitative", "title": null, "scale": {"domain": [1.7002217, 1.7200275], "nice": false, "zero": false}},
"x2": {"field": "x2"},
"y2": {"field": "p2"}
}
},
{
"data": {"values": [{"x": 429.375, "p": 1.709425}]},
"mark": {"type": "point", "shape": "triangle-up", "angle": 138.9, "size": 330, "filled": true, "color": "#c4c400", "opacity": 1},
"encoding": {
"x": {"field": "x", "type": "quantitative", "title": null, "scale": {"domain": [-0.375, 497.375], "nice": false, "zero": false}},
"y": {"field": "p", "type": "quantitative", "title": null, "scale": {"domain": [1.7002217, 1.7200275], "nice": false, "zero": false}}
}
},
{
"data": {"values": [{"x": 0.625, "p": 1.71985, "t": "▼ GBPUSD,H1  1.70783 1.70815 1.70757 1.70790"}]},
"mark": {"type": "text", "color": "#ffffff", "fontSize": 9.5, "font": "Liberation Sans", "align": "left", "baseline": "middle"},
"encoding": {
"x": {"field": "x", "type": "quantitative", "title": null, "scale": {"domain": [-0.375, 497.375], "nice": false, "zero": false}},
"y": {"field": "p", "type": "quantitative", "title": null, "scale": {"domain": [1.7002217, 1.7200275], "nice": false, "zero": false}},
"text": {"field": "t"}
}
},
{
"data": {"name": "levels"},
"mark": {"type": "rule", "color": "#ff2a00", "strokeWidth": 11, "strokeCap": "butt"},
"encoding": {
"x": {"datum": 497.875, "type": "quantitative", "scale": {"domain": [-0.375, 497.375], "nice": false, "zero": false}},
"x2": {"datum": 507.625},
"y": {"field": "p", "type": "quantitative", "title": null, "scale": {"domain": [1.7002217, 1.7200275], "nice": false, "zero": false}}
}
},
{
"data": {"name": "levels"},
"mark": {"type": "text", "color": "#ffffff", "fontSize": 9.5, "font": "Liberation Sans", "align": "left", "baseline": "middle"},
"encoding": {
"x": {"datum": 498.625, "type": "quantitative", "scale": {"domain": [-0.375, 497.375], "nice": false, "zero": false}},
"y": {"field": "p", "type": "quantitative", "title": null, "scale": {"domain": [1.7002217, 1.7200275], "nice": false, "zero": false}},
"text": {"field": "p", "type": "quantitative", "format": ".5f"}
}
},
{
"data": {"values": [{"p": 1.7079}]},
"mark": {"type": "rule", "color": "#ffffff", "strokeWidth": 11, "strokeCap": "butt"},
"encoding": {
"x": {"datum": 497.875, "type": "quantitative", "scale": {"domain": [-0.375, 497.375], "nice": false, "zero": false}},
"x2": {"datum": 507.625},
"y": {"field": "p", "type": "quantitative", "title": null, "scale": {"domain": [1.7002217, 1.7200275], "nice": false, "zero": false}}
}
},
{
"data": {"values": [{"p": 1.7079}]},
"mark": {"type": "text", "color": "#000000", "fontSize": 9.5, "font": "Liberation Sans", "align": "left", "baseline": "middle"},
"encoding": {
"x": {"datum": 498.625, "type": "quantitative", "scale": {"domain": [-0.375, 497.375], "nice": false, "zero": false}},
"y": {"field": "p", "type": "quantitative", "title": null, "scale": {"domain": [1.7002217, 1.7200275], "nice": false, "zero": false}},
"text": {"field": "p", "type": "quantitative", "format": ".5f"}
}
}
]
},
{
"width": 1991,
"height": 146,
"layer": [
{
"data": {"name": "bars"},
"mark": {"type": "line", "color": "#1e90ff", "strokeWidth": 1},
"encoding": {
"x": {"field": "i", "type": "quantitative", "title": null,
"scale": {"domain": [-0.375, 497.375], "nice": false, "zero": false},
"axis": {"orient": "bottom", "values": [0,8,16,24,32,40,48,56,64,72,80,88,96,104,112,120,128,136,144,152,160,168,176,184,192,200,208,216,224,232,240,248,256,264,272,280,288,296,304,312,320,328,336,344,352,360,368,376,384,392,400,408,416,424,432,440,448,456,464,472,480,488,496],
"grid": true, "gridOpacity": {"condition": {"test": "datum.value > 0", "value": 1}, "value": 0},
"tickSize": 5, "tickOpacity": {"condition": {"test": "datum.value % 16 === 0 && datum.value <= 384", "value": 1}, "value": 0},
"labelAlign": "left", "labelBaseline": "top", "labelPadding": 1, "labelFlush": false, "labelOverlap": false, "labelBound": false,
"labelExpr": "datum.value % 16 === 0 && datum.value <= 384 ? ['29 Jun 2014','30 Jun 14:00','1 Jul 06:00','1 Jul 22:00','2 Jul 14:00','3 Jul 06:00','3 Jul 22:00','4 Jul 14:00','7 Jul 04:00','7 Jul 20:00','8 Jul 12:00','9 Jul 04:00','9 Jul 20:00','10 Jul 12:00','11 Jul 04:00','11 Jul 20:00','14 Jul 10:00','15 Jul 02:00','15 Jul 18:00','16 Jul 10:00','17 Jul 02:00','17 Jul 18:00','18 Jul 10:00','21 Jul 00:00','21 Jul 16:00'][datum.value / 16] : ''",
"domain": false, "title": null, "zindex": 0}},
"y": {"field": "r", "type": "quantitative", "title": null,
"scale": {"domain": [-3.68, 103.68], "nice": false, "zero": false},
"axis": {"orient": "right", "values": [0, 30, 70, 100], "grid": true, "gridOpacity": {"condition": {"test": "datum.value == 30 || datum.value == 70", "value": 1}, "value": 0}, "tickSize": 3, "labelPadding": 2, "title": null, "zindex": 0, "labelFlush": false, "labelOverlap": false, "labelBound": false}}
}
},
{
"data": {"values": [{"x": 0.875, "r": 97.8, "t": "RSI(14) 52.0386"}]},
"mark": {"type": "text", "color": "#ffffff", "fontSize": 9.5, "font": "Liberation Sans", "align": "left", "baseline": "middle"},
"encoding": {
"x": {"field": "x", "type": "quantitative", "title": null, "scale": {"domain": [-0.375, 497.375], "nice": false, "zero": false}},
"y": {"field": "r", "type": "quantitative", "title": null, "scale": {"domain": [-3.68, 103.68], "nice": false, "zero": false}},
"text": {"field": "t"}
}
}
]
}
]
}
